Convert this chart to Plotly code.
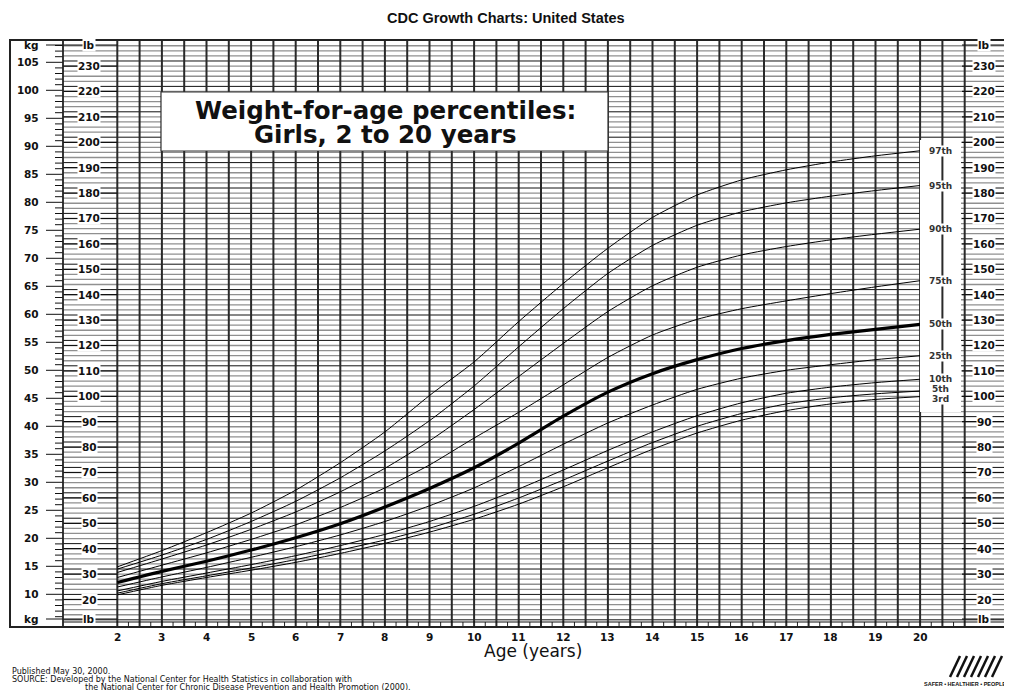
import plotly.graph_objects as go

# ---------------- data (kg) ----------------
ages = list(range(2, 21))
p3  = [9.9, 11.6, 13.0, 14.3, 15.7, 17.3, 19.1, 21.1, 23.4, 26.1, 29.2, 32.6, 35.9, 38.8, 41.1, 42.8, 44.0, 44.8, 45.3]
p5  = [10.2, 11.9, 13.3, 14.7, 16.2, 17.9, 19.7, 21.8, 24.3, 27.2, 30.4, 33.8, 37.1, 40.0, 42.3, 44.0, 45.1, 45.8, 46.3]
p10 = [10.6, 12.3, 13.8, 15.3, 16.9, 18.7, 20.7, 23.0, 25.7, 28.8, 32.2, 35.7, 39.0, 41.9, 44.2, 45.9, 47.0, 47.8, 48.4]
p25 = [11.3, 13.1, 14.8, 16.6, 18.5, 20.6, 23.0, 25.8, 29.0, 32.8, 36.8, 40.6, 43.8, 46.6, 48.6, 50.0, 51.0, 51.9, 52.6]
p50 = [12.1, 14.1, 15.9, 17.9, 20.1, 22.6, 25.6, 28.9, 32.6, 37.0, 41.8, 46.1, 49.4, 51.9, 53.9, 55.3, 56.4, 57.3, 58.2]
p75 = [13.0, 15.2, 17.4, 19.8, 22.4, 25.5, 29.0, 33.1, 37.9, 42.5, 47.4, 52.3, 56.3, 59.1, 61.0, 62.4, 63.7, 64.9, 66.0]
p90 = [13.9, 16.3, 18.8, 21.6, 24.7, 28.3, 32.5, 37.4, 43.0, 48.9, 54.8, 60.5, 65.1, 68.4, 70.6, 72.1, 73.3, 74.3, 75.2]
p95 = [14.5, 17.0, 19.8, 23.0, 26.6, 30.8, 35.6, 41.0, 47.2, 54.2, 61.0, 67.3, 72.3, 75.9, 78.3, 79.9, 81.1, 82.1, 83.0]
p97 = [14.9, 17.8, 21.0, 24.5, 28.6, 33.5, 39.0, 45.5, 51.5, 58.7, 65.5, 71.8, 77.3, 81.3, 84.0, 85.8, 87.2, 88.3, 89.2]

percentile_names = ["3rd", "5th", "10th", "25th", "50th", "75th", "90th", "95th", "97th"]
percentile_series = [p3, p5, p10, p25, p50, p75, p90, p95, p97]

age_tick_labels = list(range(2, 21))
kg_tick_labels = list(range(10, 106, 5))
lb_tick_labels = list(range(20, 231, 10))

# ---------------- pixel calibration (window pixels) ----------------
W, H = 1012, 690
PAGE_OFF = 8  # default body margin of the page
PX_AGE2, PX_PER_YEAR = 117.3, 44.6
PY_KG10, PY_PER_KG = 594.3, 5.6
LB = 0.45359237

def ax(px):
    return 2 + (px - PX_AGE2) / PX_PER_YEAR

def ay(py):
    return 10 + (PY_KG10 - py) / PY_PER_KG

FONT = "Liberation Sans, Arial, sans-serif"
WIDE = "DejaVu Sans, Verdana, sans-serif"
TOP, BOT = 40, 627
GRID_BOT = 622
LEFT, RIGHT = 10, 1005
KG_COL_R = 63
RIGHT_COL_L = 962

fig = go.Figure()

def add_lines(segs, color, width):
    xs, ys = [], []
    for (x0, y0, x1, y1) in segs:
        xs += [x0, x1, None]
        ys += [y0, y1, None]
    fig.add_trace(go.Scatter(x=xs, y=ys, mode="lines", line=dict(color=color, width=width),
                             hoverinfo="skip", showlegend=False))

# horizontal grid (every 2 lb)
gray, black = [], []
for lb in range(12, 239, 2):
    kg = lb * LB
    seg = (ax(KG_COL_R), kg, ax(RIGHT), kg)
    if (lb - 2) % 10 == 0:
        black.append(seg)
    else:
        gray.append(seg)
add_lines(gray, "#909090", 1.3)
add_lines(black, "#111111", 1)

# vertical grid every half year
vert = []
a = 2.0
while a <= 21.001:
    vert.append((a, ay(TOP), a, ay(BOT)))
    a += 0.5
add_lines(vert, "#2a2a2a", 2)

# quarter-year ticks at bottom
qt = []
a = 2.25
while a < 21:
    qt.append((a, ay(GRID_BOT), a, ay(BOT)))
    a += 0.5
add_lines(qt, "#222222", 1)
add_lines([(ax(KG_COL_R), ay(GRID_BOT), ax(RIGHT), ay(GRID_BOT))], "#111111", 1.2)

# kg column: white background and ticks
fig.add_shape(type="rect", x0=ax(LEFT), x1=ax(KG_COL_R), y0=ay(BOT), y1=ay(TOP),
              fillcolor="white", line=dict(width=0), layer="below")
kt = []
for kg in range(6, 109):
    if kg % 5 == 0 and 10 <= kg <= 105:
        kt.append((ax(46), kg, ax(KG_COL_R), kg))
    else:
        kt.append((ax(55), kg, ax(KG_COL_R), kg))
kt.append((ax(46), ay(45), ax(KG_COL_R), ay(45)))
kt.append((ax(46), ay(619), ax(KG_COL_R), ay(619)))
add_lines(kt, "#111111", 1)

# lb label dashes (left and right columns)
lt = []
for lb in lb_tick_labels:
    kg = lb * LB
    lt.append((ax(KG_COL_R), kg, ax(PX_AGE2), kg))
    lt.append((ax(RIGHT_COL_L), kg, ax(RIGHT), kg))
for py in (45, 619):
    lt.append((ax(KG_COL_R), ay(py), ax(PX_AGE2), ay(py)))
    lt.append((ax(RIGHT_COL_L), ay(py), ax(RIGHT), ay(py)))
add_lines(lt, "#111111", 1.2)

# column separators and frame
add_lines([(ax(KG_COL_R), ay(TOP), ax(KG_COL_R), ay(BOT))], "#222222", 1.8)
fig.add_shape(type="rect", x0=ax(LEFT), x1=ax(RIGHT), y0=ay(BOT), y1=ay(TOP),
              line=dict(color="#222222", width=2), fillcolor="rgba(0,0,0,0)")

# percentile curves
for name, vals in zip(percentile_names, percentile_series):
    w = 3.2 if name == "50th" else 1.0
    fig.add_trace(go.Scatter(x=ages, y=vals, mode="lines",
                             line=dict(color="black", width=w, shape="spline", smoothing=0.6),
                             hoverinfo="skip", showlegend=False, name=name))

# white column behind the percentile labels (above the grid)
fig.add_shape(type="rect", x0=ax(920), x1=ax(RIGHT_COL_L - 1), y0=ay(412), y1=ay(140),
              fillcolor="white", line=dict(width=0), layer="above")
fig.add_shape(type="line", x0=20.5, x1=20.5, y0=ay(412), y1=ay(140),
              line=dict(color="#2a2a2a", width=2), layer="above")

annotations = []

def txt(x, y, s, size, bold=True, xanchor="center", bg=None, color="#111111", family=FONT):
    d = dict(x=x, y=y, text=(f"<b>{s}</b>" if bold else s), showarrow=False,
             font=dict(family=family, size=size, color=color), xanchor=xanchor, yanchor="middle")
    if bg:
        d["bgcolor"] = bg
        d["borderpad"] = 0
    annotations.append(d)

# percentile labels (small nudges keep the three lowest apart)
nudge = {"5th": 0.3, "3rd": -0.35}
for name, vals in zip(percentile_names, percentile_series):
    txt(ax(940), vals[-1] + nudge.get(name, 0), name, 9, bold=True, bg="white", family=WIDE, color="#333")

# kg labels
for kg in kg_tick_labels:
    txt(ax(41), kg, str(kg), 10.5, xanchor="right", family=WIDE)
txt(ax(41), ay(45), "kg", 10.5, xanchor="right", family=WIDE)
txt(ax(41), ay(619), "kg", 10.5, xanchor="right", family=WIDE)

# lb labels
for lb in lb_tick_labels:
    txt(ax(89), lb * LB, str(lb), 10.5, bg="white", family=WIDE)
    txt(ax(984), lb * LB, str(lb), 10.5, bg="white", family=WIDE)
for py in (45, 619):
    txt(ax(89), ay(py), "lb", 10.5, bg="white", family=WIDE)
    txt(ax(984), ay(py), "lb", 10.5, bg="white", family=WIDE)

# age labels
for a in age_tick_labels:
    txt(a, ay(637), str(a), 10.5, family=WIDE)
txt(ax(533), ay(651), "Age (years)", 17, bold=False, family=WIDE)

# titles
txt(ax(506), ay(18), "CDC Growth Charts: United States", 14.5)
fig.add_shape(type="rect", x0=ax(161), x1=ax(608), y0=ay(151), y1=ay(92),
              fillcolor="white", line=dict(color="#333333", width=1.2), layer="above")
txt(ax(385), ay(110), "Weight-for-age percentiles:", 24.5, family=WIDE)
txt(ax(385), ay(134), "Girls, 2 to 20 years", 24.5, family=WIDE)

# footer
for px, py, s in [(10, 671, "Published May 30, 2000."),
                  (10, 679, "SOURCE: Developed by the National Center for Health Statistics in collaboration with"),
                  (83, 687, "the National Center for Chronic Disease Prevention and Health Promotion (2000).")]:
    annotations.append(dict(x=ax(px), y=ay(py), xanchor="left", yanchor="middle", showarrow=False,
                            text=s, font=dict(family=WIDE, size=8, color="#111")))
annotations.append(dict(x=ax(1008), y=ay(684), xanchor="right", yanchor="middle", showarrow=False,
                        text="<b>SAFER • HEALTHIER • PEOPLE</b>",
                        font=dict(family=FONT, size=5.5, color="#111")))

# simple logo marks
logo = []
for i in range(7):
    logo.append((ax(950 + i * 7), ay(677), ax(960 + i * 7), ay(656)))
add_lines(logo, "#111111", 2.5)

fig.update_layout(
    width=W, height=H, autosize=False,
    margin=dict(l=0, r=0, t=0, b=0),
    paper_bgcolor="white", plot_bgcolor="white",
    xaxis=dict(range=[ax(PAGE_OFF), ax(PAGE_OFF + W)], visible=False, fixedrange=True),
    yaxis=dict(range=[ay(PAGE_OFF + H), ay(PAGE_OFF)], visible=False, fixedrange=True),
    annotations=annotations,
    showlegend=False,
)

fig.write_html("out.html")
